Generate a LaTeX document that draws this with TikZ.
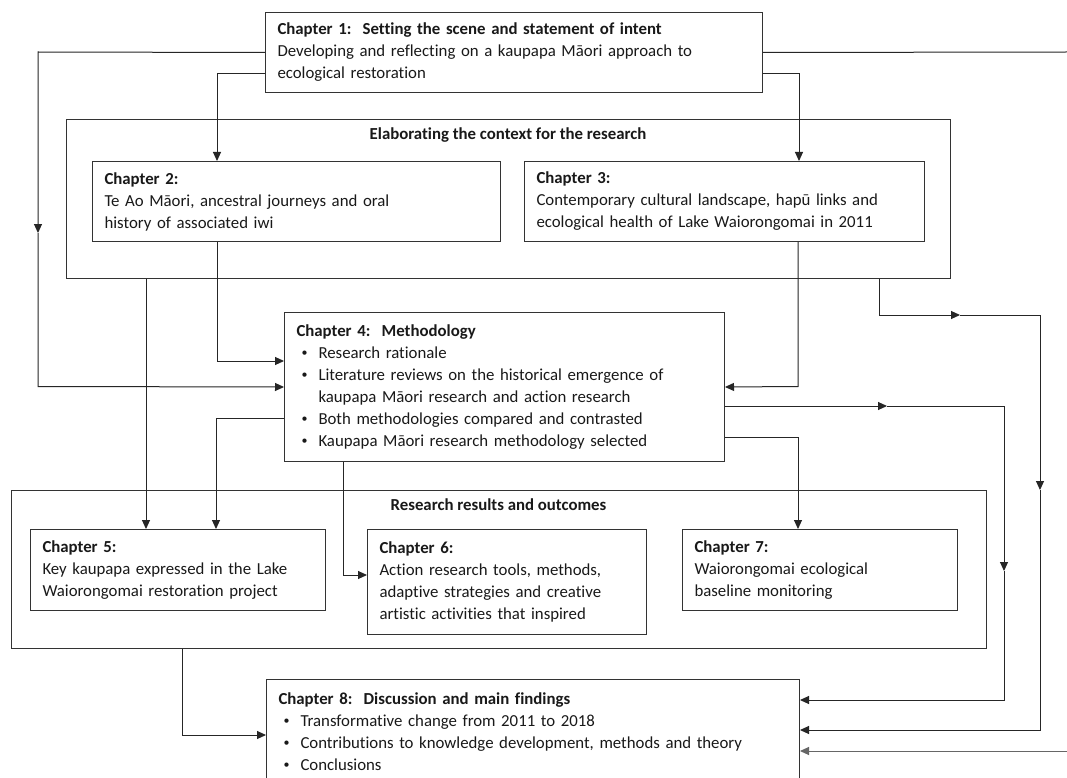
\documentclass[tikz,border=0pt]{standalone}
\usepackage{fontspec}
\setmainfont{Carlito}[Ligatures={NoCommon}]
\usetikzlibrary{arrows.meta}
\newcommand{\bitem}{\hspace*{5pt}\makebox[17pt][l]{\raisebox{1.5pt}{\fontsize{12}{12}\selectfont\textbullet}}}
\begin{document}
\begin{tikzpicture}[x=1pt,y=-1pt,
  box/.style={draw=black!80, line width=1pt, anchor=north west, align=left,
    inner xsep=12pt, inner ysep=0pt, fill=white, text=black!90,
    font=\fontsize{16.8}{22}\selectfont},
  frame/.style={draw=black!80, line width=1pt, anchor=north west, inner sep=0pt},
  grouptitle/.style={font=\fontsize{16.8}{22}\selectfont\bfseries, inner sep=0pt, text=black!90},
  link/.style={line width=1pt, draw=black!85},
  conn/.style={link, -{Triangle[length=9pt,width=8pt]}},
]
\useasboundingbox (0,0) rectangle (1067,778);
\fill[white] (0,0) rectangle (1067,778);

% group frames
\node[frame, minimum width=884pt, minimum height=159pt] (ctx) at (66,119) {};
\node[grouptitle] (ctxt) at (508,135) {Elaborating the context for the research};
\node[frame, minimum width=975pt, minimum height=158pt] (res) at (11,490) {};
\node[grouptitle] (rest) at (498.5,505) {Research results and outcomes};

% chapter boxes
\node[box, minimum width=497pt, minimum height=80pt, text width=473pt] (ch1) at (265,12)
  {\textbf{Chapter 1:\ \ Setting the scene and statement of intent}\\
   Developing and reflecting on a kaupapa Māori approach to\\
   ecological restoration};
\node[box, minimum width=408pt, minimum height=80pt, text width=384pt] (ch2) at (92,161)
  {\textbf{Chapter 2:}\\
   Te Ao Māori, ancestral journeys and oral\\
   history of associated iwi};
\node[box, minimum width=400pt, minimum height=80pt, text width=376pt] (ch3) at (524,161)
  {\textbf{Chapter 3:}\\
   Contemporary cultural landscape, hapū links and\\
   ecological health of Lake Waiorongomai in 2011};
\node[box, minimum width=440pt, minimum height=149pt, text width=416pt] (ch4) at (284,312)
  {\textbf{Chapter 4:\ \ Methodology}\\
   \bitem Research rationale\\
   \bitem Literature reviews on the historical emergence of\\
   \hspace*{22pt}kaupapa Māori research and action research\\
   \bitem Both methodologies compared and contrasted\\
   \bitem Kaupapa Māori research methodology selected};
\node[box, minimum width=295pt, minimum height=81pt, text width=271pt] (ch5) at (30,529)
  {\textbf{Chapter 5:}\\
   Key kaupapa expressed in the Lake\\
   Waiorongomai restoration project};
\node[box, minimum width=279pt, minimum height=105pt, text width=255pt] (ch6) at (367,529)
  {\textbf{Chapter 6:}\\
   Action research tools, methods,\\
   adaptive strategies and creative\\
   artistic activities that inspired};
\node[box, minimum width=275pt, minimum height=81pt, text width=251pt] (ch7) at (682,529)
  {\textbf{Chapter 7:}\\
   Waiorongomai ecological\\
   baseline monitoring};
\node[box, minimum width=533pt, minimum height=104pt, text width=509pt] (ch8) at (266,679)
  {\textbf{Chapter 8:\ \ Discussion and main findings}\\
   \bitem Transformative change from 2011 to 2018\\
   \bitem Contributions to knowledge development, methods and theory\\
   \bitem Conclusions};

% bend points
\coordinate (a1) at (38,52);   \coordinate (a1m) at (38,233); \coordinate (a1b) at (38,386.5);
\coordinate (a2) at (217,74);
\coordinate (a3) at (799,74);
\coordinate (eTop) at (1067,52);
\coordinate (a5) at (217,361);
\coordinate (a6) at (798,386.5);
\coordinate (a7) at (146,300);
\coordinate (a8) at (879,315); \coordinate (a8m) at (960,315);
\coordinate (a8b) at (1040,315); \coordinate (a8n) at (1040,490); \coordinate (a8c) at (1040,730);
\coordinate (a9) at (1004,406); \coordinate (a9m) at (887,406);
\coordinate (a9n) at (1004,571); \coordinate (a9c) at (1004,700);
\coordinate (a10) at (216,418);
\coordinate (a11) at (343,575);
\coordinate (a12) at (798,437);
\coordinate (a13) at (182,735);
\coordinate (eBot) at (1067,751);

% Chapter 1 links
\draw[conn] (ch1.west) -- (a1) -- (a1m);
\draw[conn] (a1m) -- (a1b) -- (ch4.west);
\draw[conn] (ch1.west |- a2) -- (a2) -- (ch2.north -| a2);
\draw[conn] (ch1.east |- a3) -- (a3) -- (ch3.north -| a3);
\draw[link] (ch1.east) -- (eTop);
\draw[conn, draw=black!60] (eBot) -- (ch8.east |- eBot);

% context chapters into methodology
\draw[conn] (ch2.south -| a5) -- (a5) -- (ch4.west |- a5);
\draw[conn] (ch3.south -| a6) -- (a6) -- (ch4.east);

% context frame onwards
\draw[conn] (ctx.south -| a7) -- (ch5.north -| a7);
\draw[conn] (ctx.south -| a8) -- (a8) -- (a8m);
\draw[conn] (a8m) -- (a8b) -- (a8n);
\draw[conn] (a8n) -- (a8c) -- (ch8.east |- a8c);

% methodology onwards
\draw[conn] (ch4.east |- a9) -- (a9m);
\draw[conn] (a9m) -- (a9) -- (a9n);
\draw[conn] (a9n) -- (a9c) -- (ch8.east |- a9c);
\draw[conn] (ch4.west |- a10) -- (a10) -- (ch5.north -| a10);
\draw[conn] (ch4.south -| a11) -- (a11) -- (ch6.west |- a11);
\draw[conn] (ch4.east |- a12) -- (a12) -- (ch7.north -| a12);

% results frame into discussion
\draw[conn] (res.south -| a13) -- (a13) -- (ch8.west |- a13);
\end{tikzpicture}
\end{document}
